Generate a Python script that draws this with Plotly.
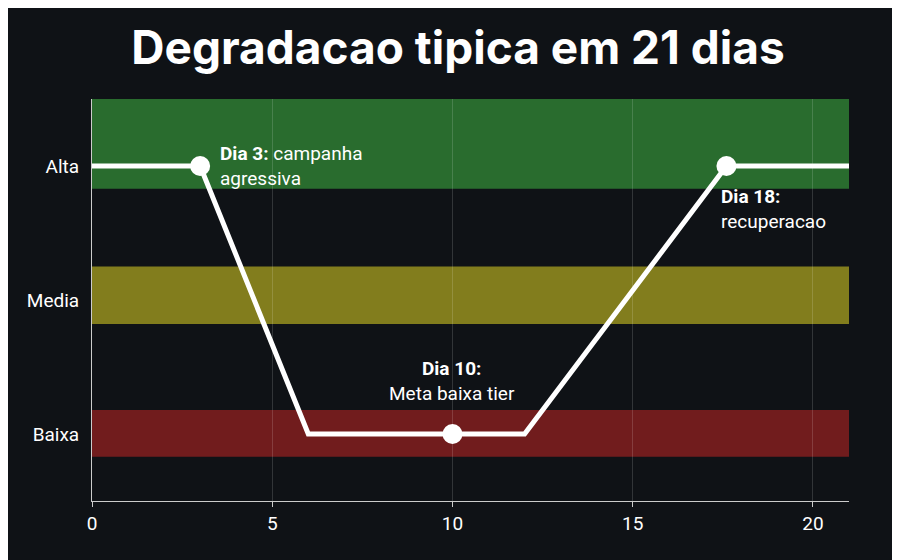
import plotly.graph_objects as go

days = [0, 3, 6, 12, 17.6, 21]
level = [2, 2, 0, 0, 2, 2]
mark_days = [3, 10, 17.6]
mark_level = [2, 0, 2]
tick_vals = [0, 1, 2]
tick_text = ["Baixa", "Media", "Alta"]
bands = [(1.83, 2.5, "rgba(46,125,50,0.85)"), (0.82, 1.25, "rgba(150,145,30,0.85)"), (-0.17, 0.18, "rgba(130,30,30,0.85)")]

bg = "#0f1216"
fig = go.Figure()
for y0, y1, c in bands:
    fig.add_hrect(y0=y0, y1=y1, fillcolor=c, line_width=0, layer="below")
fig.add_trace(go.Scatter(x=days, y=level, mode="lines", line=dict(color="white", width=5), hoverinfo="skip"))
fig.add_trace(go.Scatter(x=mark_days, y=mark_level, mode="markers", marker=dict(color="white", size=20), hoverinfo="skip"))

fnt = dict(family="Roboto", size=19, color="white")
fig.add_annotation(x=3.5, y=2, text="<b>Dia 3:</b> campanha<br>agressiva", showarrow=False, xanchor="left", yanchor="middle", align="left", font=fnt)
fig.add_annotation(x=10, y=0.2, text="<b>Dia 10:</b><br>Meta baixa tier", showarrow=False, xanchor="center", yanchor="bottom", align="center", font=fnt)
fig.add_annotation(x=17.4, y=1.87, text="<b>Dia 18:</b><br>recuperacao", showarrow=False, xanchor="left", yanchor="top", align="left", font=fnt)

fig.update_layout(
    width=900, height=560, paper_bgcolor=bg, plot_bgcolor=bg, showlegend=False,
    margin=dict(l=84, r=59, t=91, b=67),
    title=dict(text="<b>Degradacao tipica em 21 dias</b>", x=0.5, xanchor="center", y=0.929, yanchor="middle",
               font=dict(family="Inter", size=46, color="white")),
    xaxis=dict(range=[0, 21], tickvals=[0, 5, 10, 15, 20], showgrid=True, gridcolor="rgba(255,255,255,0.15)",
               zeroline=False, showline=True, linecolor="#cccccc", ticks="outside", tickcolor="#cccccc",
               tickfont=dict(family="Roboto", size=19, color="white")),
    yaxis=dict(range=[-0.5, 2.5], tickvals=tick_vals, ticktext=tick_text, showgrid=False, zeroline=False,
               showline=True, linecolor="#cccccc", tickfont=dict(family="Roboto", size=19, color="white"), ticklen=8, ticks="outside", tickcolor=bg),
)
fig.write_html("out.html")
